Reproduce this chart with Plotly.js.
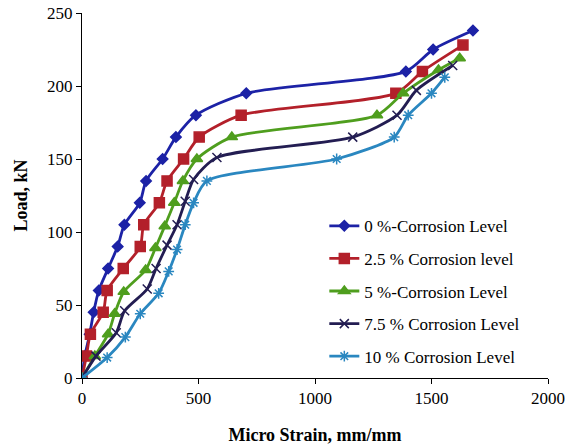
<!DOCTYPE html>
<html>
<head>
<meta charset="utf-8">
<script src="https://cdn.plot.ly/plotly-3.0.1.min.js"></script>
<style>html,body{margin:0;padding:0;background:#fff;}#chart{width:570px;height:445px;}</style>
</head>
<body>
<div id="chart"></div>
<script>
var seriesNames = ["0 %-Corrosion Level", "2.5 % Corrosion level", "5 %-Corrosion Level", "7.5 % Corrosion Level", "10 % Corrosion Level"];

var x0 = [0, 12, 33, 50, 72, 112, 153, 182, 248, 275, 346, 403, 489, 705, 1390, 1507, 1678];
var y0 = [0, 15, 30, 45, 60, 75, 90, 105, 120, 135, 150, 165, 180, 195, 210, 225, 238];

var x25 = [0, 19, 36, 91, 108, 177, 250, 265, 332, 365, 436, 503, 683, 1347, 1461, 1635];
var y25 = [0, 15, 30, 45, 60, 75, 90, 105, 120, 135, 150, 165, 180, 195, 210, 228];

var x5 = [0, 55, 112, 140, 179, 273, 315, 355, 396, 433, 493, 643, 1266, 1378, 1530, 1621];
var y5 = [0, 15, 30, 44, 59, 74, 89, 104, 120, 135, 150, 165, 180, 195, 211, 219];

var x75 = [0, 60, 147, 183, 280, 318, 365, 408, 443, 479, 579, 1162, 1352, 1435, 1591];
var y75 = [0, 15, 31, 46, 61, 75, 91, 105, 121, 136, 151, 165, 180, 197, 214];

var x10 = [0, 108, 186, 250, 329, 372, 408, 443, 479, 536, 1093, 1340, 1400, 1500, 1557];
var y10 = [0, 14, 28, 44, 58, 73, 88, 105, 120, 135, 150, 165, 180, 195, 206];

var xs = [x0, x25, x5, x75, x10];
var ys = [y0, y25, y5, y75, y10];
var colors = ["#1c22a6", "#b3202a", "#4f9e1e", "#231d52", "#2a87c0"];
var symbols = ["diamond", "square", "triangle-up", "x-thin-open", "asterisk-open"];
var sizes = [8, 10, 10, 9, 9];

var traces = seriesNames.map(function (n, i) {
  return {
    x: xs[i], y: ys[i], name: n, type: "scatter", mode: "lines+markers",
    legendgroup: "g" + i,
    line: {color: colors[i], width: 2.8, shape: "spline", smoothing: 0.7},
    marker: {symbol: symbols[i], size: sizes[i], color: colors[i], line: {color: colors[i], width: 1.5}}
  };
});

var serif = "Liberation Serif, Times New Roman, serif";
var layout = {
  width: 570, height: 445,
  margin: {l: 82, r: 22, t: 13, b: 67},
  paper_bgcolor: "#fff", plot_bgcolor: "#fff",
  font: {family: serif, size: 17, color: "#000"},
  showlegend: true,
  legend: {x: 0.52, y: 0.465, xanchor: "left", yanchor: "top", bgcolor: "rgba(0,0,0,0)",
           font: {family: serif, size: 17, color: "#000"}, tracegroupgap: 7.5, itemwidth: 30},
  xaxis: {range: [0, 2000], tickvals: [0, 500, 1000, 1500, 2000], showgrid: false, zeroline: false,
          showline: true, linecolor: "#000", linewidth: 1, ticks: "outside", ticklen: 5, tickcolor: "#000",
          tickfont: {family: serif, size: 17}, fixedrange: true,
          title: {text: "<b>Micro Strain, mm/mm</b>", font: {family: serif, size: 18}, standoff: 24}},
  yaxis: {range: [0, 250], tickvals: [0, 50, 100, 150, 200, 250], showgrid: false, zeroline: false,
          showline: true, linecolor: "#000", linewidth: 1, ticks: "outside", ticklen: 5, tickcolor: "#000",
          tickfont: {family: serif, size: 17}, fixedrange: true,
          title: {text: "<b>Load, kN</b>", font: {family: serif, size: 18}, standoff: 14}}
};

Plotly.newPlot("chart", traces, layout, {staticPlot: true});
</script>
</body>
</html>
